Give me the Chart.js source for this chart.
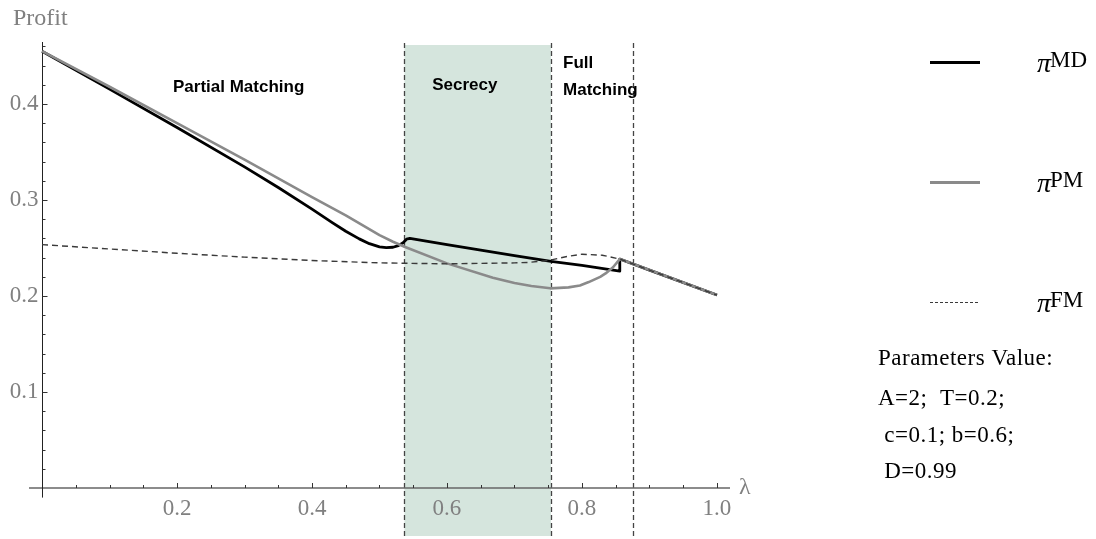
<!DOCTYPE html>
<html>
<head>
<meta charset="utf-8">
<script src="https://cdn.jsdelivr.net/npm/chart.js@4.4.0/dist/chart.umd.min.js"></script>
<style>
  body { margin: 0; background: #fff; }
  #wrap { width: 1096px; height: 539px; }
</style>
</head>
<body>
<div id="wrap"><canvas id="profit-chart" width="1096" height="539"></canvas></div>
<script>
// values (lambda, profit)
const lamMD    = [0, 0.1, 0.2, 0.3, 0.35, 0.4, 0.43, 0.45, 0.47, 0.485, 0.5, 0.51, 0.52, 0.528, 0.535, 0.54, 0.545, 0.6, 0.65, 0.7, 0.754, 0.8, 0.856, 0.856, 0.9, 1.0];
const profitMD = [0.455, 0.4155, 0.3755, 0.3345, 0.313, 0.2905, 0.2765, 0.2675, 0.2595, 0.2545, 0.2512, 0.2503, 0.2508, 0.2525, 0.2555, 0.2592, 0.26, 0.2536, 0.2478, 0.242, 0.236, 0.2318, 0.226, 0.2385, 0.227, 0.201];

const lamPM    = [0, 0.1, 0.2, 0.3, 0.4, 0.45, 0.5, 0.52, 0.538, 0.6, 0.668, 0.7, 0.725, 0.753, 0.78, 0.797, 0.81, 0.827, 0.835, 0.846, 0.856, 0.9, 1.0];
const profitPM = [0.455, 0.418, 0.38, 0.342, 0.303, 0.284, 0.2635, 0.2565, 0.251, 0.234, 0.219, 0.2135, 0.2105, 0.208, 0.209, 0.211, 0.2145, 0.22, 0.2235, 0.23, 0.2385, 0.227, 0.201];

const lamFM    = [0, 0.1, 0.2, 0.3, 0.4, 0.5, 0.6, 0.7, 0.72, 0.75, 0.78, 0.8, 0.83, 0.856, 0.9, 1.0];
const profitFM = [0.2535, 0.249, 0.2445, 0.2405, 0.237, 0.2345, 0.2335, 0.2345, 0.235, 0.237, 0.2415, 0.2435, 0.2425, 0.2385, 0.227, 0.201];

const regionBounds = [0.537, 0.754, 0.875];
const xTickLabels  = ['0.2', '0.4', '0.6', '0.8', '1.0'];
const yTickLabels  = ['0.1', '0.2', '0.3', '0.4'];
const legendNames  = ['MD', 'PM', 'FM'];
const paramLines   = ['Parameters Value:', 'A=2;  T=0.2;', ' c=0.1; b=0.6;', ' D=0.99'];

const toPoints = (xs, ys) => xs.map((v, i) => ({ x: v, y: ys[i] }));

const serif = '"Liberation Serif", "Times New Roman", serif';
const sans  = '"Liberation Sans", Arial, sans-serif';

const decor = {
    id: 'decor',
    beforeDatasetsDraw(chart) {
        const { ctx, chartArea: a, scales: { x, y } } = chart;
        ctx.save();

        // secrecy band
        const b1 = x.getPixelForValue(regionBounds[0]);
        const b2 = x.getPixelForValue(regionBounds[1]);
        ctx.fillStyle = '#d5e5dd';
        ctx.fillRect(b1, a.top + 3, b2 - b1, a.bottom - a.top - 3);

        // dashed region borders
        ctx.strokeStyle = '#444';
        ctx.lineWidth = 1.3;
        ctx.setLineDash([5, 3]);
        regionBounds.forEach(v => {
            const px = Math.round(x.getPixelForValue(v)) + 0.5;
            ctx.beginPath();
            ctx.moveTo(px, a.top + 1);
            ctx.lineTo(px, a.bottom);
            ctx.stroke();
        });
        ctx.setLineDash([]);

        // axes crossing at the origin
        const x0 = Math.round(x.getPixelForValue(0)) + 0.5;
        const y0 = Math.round(y.getPixelForValue(0));
        ctx.strokeStyle = '#666';
        ctx.lineWidth = 1.6;
        ctx.beginPath();
        ctx.moveTo(a.left, y0);
        ctx.lineTo(a.right, y0);
        ctx.stroke();

        ctx.strokeStyle = '#222';
        ctx.lineWidth = 1;
        ctx.beginPath();
        ctx.moveTo(x0, a.top);
        ctx.lineTo(x0, y.getPixelForValue(-0.01));
        ctx.stroke();

        // tick marks (inside)
        ctx.strokeStyle = '#333';
        for (let i = 1; i <= 20; i++) {
            const px = Math.round(x.getPixelForValue(i * 0.05)) + 0.5;
            const len = i % 4 === 0 ? 5 : 3;
            ctx.beginPath();
            ctx.moveTo(px, y0);
            ctx.lineTo(px, y0 - len);
            ctx.stroke();
        }
        for (let i = 1; i <= 23; i++) {
            const py = Math.round(y.getPixelForValue(i * 0.02)) + 0.5;
            const len = i % 5 === 0 ? 5 : 3;
            ctx.beginPath();
            ctx.moveTo(x0, py);
            ctx.lineTo(x0 + len, py);
            ctx.stroke();
        }

        // tick labels
        ctx.fillStyle = '#808080';
        ctx.font = '23px ' + serif;
        ctx.textAlign = 'center';
        ctx.textBaseline = 'alphabetic';
        xTickLabels.forEach(t => {
            ctx.fillText(t, x.getPixelForValue(parseFloat(t)), y0 + 27);
        });
        ctx.textAlign = 'right';
        yTickLabels.forEach(t => {
            ctx.fillText(t, x0 - 4, y.getPixelForValue(parseFloat(t)) + 6);
        });

        ctx.textAlign = 'left';
        ctx.font = '24px ' + serif;
        ctx.fillText('Profit', 13, 25);
        ctx.fillText('λ', a.right + 9, y0 + 6);
        ctx.restore();
    },
    afterDraw(chart) {
        const { ctx, scales: { x, y } } = chart;
        ctx.save();

        // region names
        ctx.fillStyle = '#000';
        ctx.font = 'bold 17px ' + sans;
        ctx.textAlign = 'left';
        ctx.fillText('Partial Matching', x.getPixelForValue(0.194), y.getPixelForValue(0.4125));
        ctx.fillText('Secrecy', x.getPixelForValue(0.578), y.getPixelForValue(0.4146));
        ctx.fillText('Full', x.getPixelForValue(0.772), y.getPixelForValue(0.4375));
        ctx.fillText('Matching', x.getPixelForValue(0.772), y.getPixelForValue(0.409));

        // legend
        const rows = [62, 182, 302];
        chart.data.datasets.slice().reverse().forEach((ds, i) => {
            const ly = rows[i];
            ctx.strokeStyle = ds.borderColor;
            ctx.lineWidth = i === 2 ? 1 : 3;
            ctx.setLineDash(i === 2 ? [3, 2] : []);
            ctx.beginPath();
            ctx.moveTo(930, ly + 0.5);
            ctx.lineTo(980, ly + 0.5);
            ctx.stroke();
            ctx.setLineDash([]);

            ctx.fillStyle = '#000';
            ctx.font = 'italic 28px ' + serif;
            ctx.fillText('π', 1037, ly + 10);
            ctx.font = '23px ' + serif;
            ctx.fillText(legendNames[i], 1050, ly + 5);
        });

        // parameters
        ctx.font = '23px ' + serif;
        ctx.letterSpacing = '0.5px';
        const base = [365, 405, 442, 478];
        paramLines.forEach((t, i) => ctx.fillText(t, 878, base[i]));
        ctx.restore();
    }
};

new Chart(document.getElementById('profit-chart'), {
    type: 'line',
    data: {
        datasets: [
            {
                label: 'FM',
                data: toPoints(lamFM, profitFM),
                borderColor: '#3a3a3a',
                borderWidth: 1.4,
                borderDash: [6, 4],
                order: 0
            },
            {
                label: 'PM',
                data: toPoints(lamPM, profitPM),
                borderColor: '#8a8a8a',
                borderWidth: 2.6,
                order: 1
            },
            {
                label: 'MD',
                data: toPoints(lamMD, profitMD),
                borderColor: '#000000',
                borderWidth: 2.8,
                order: 2
            }
        ]
    },
    options: {
        responsive: false,
        animation: false,
        layout: { padding: { left: 29, right: 366, top: 42, bottom: 3 } },
        elements: {
            point: { radius: 0 },
            line: { tension: 0, fill: false, borderJoinStyle: 'round' }
        },
        scales: {
            x: { type: 'linear', min: -0.0193, max: 1.0193, display: false },
            y: { type: 'linear', min: -0.05, max: 0.4646, display: false }
        },
        plugins: {
            legend: { display: false },
            tooltip: { enabled: false }
        }
    },
    plugins: [decor]
});
</script>
</body>
</html>
